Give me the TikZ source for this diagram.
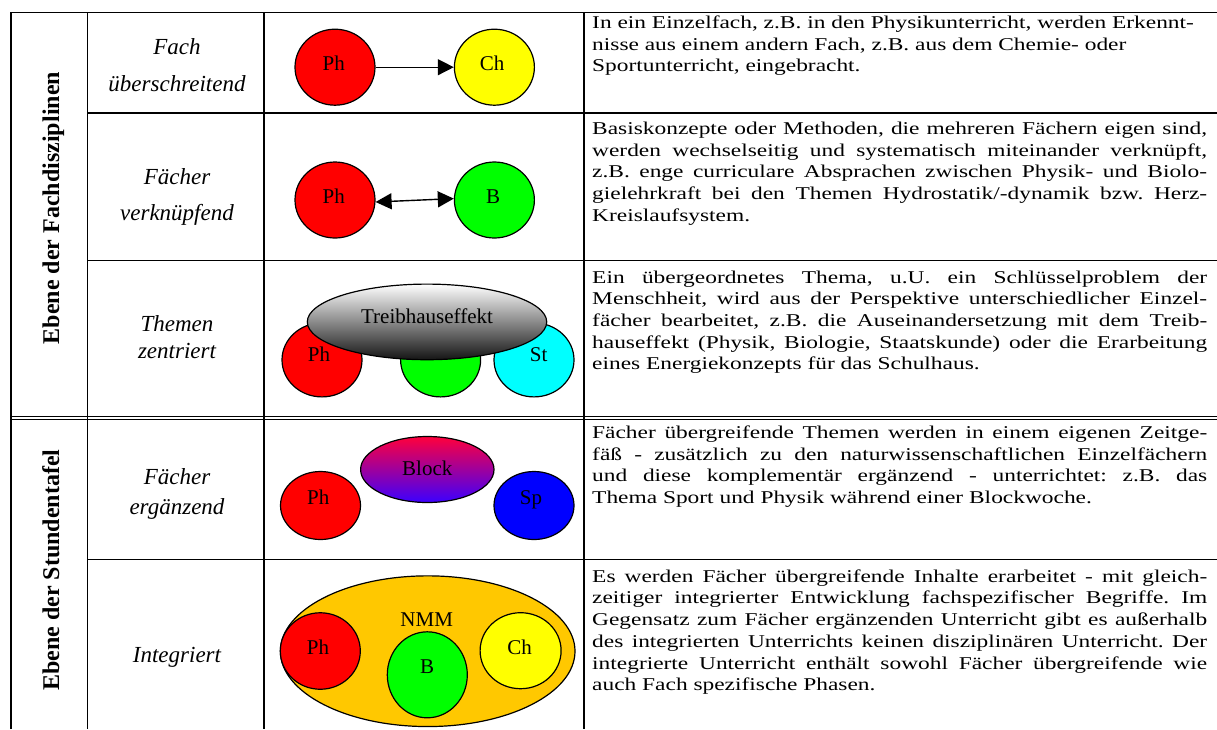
\documentclass[tikz,border=0pt]{standalone}
\usepackage{fontspec}
\setmainfont{Liberation Serif}
\newfontfamily\bodyfont[FakeStretch=1.3]{Liberation Serif}
\usetikzlibrary{shapes.geometric,arrows.meta}
\newcommand\JL[1]{\makebox[615pt][s]{#1}}
\definecolor{orangeNMM}{RGB}{255,200,0}
\definecolor{blocktop}{RGB}{255,0,60}
\definecolor{blockbot}{RGB}{60,0,255}
\definecolor{cyanfill}{RGB}{0,255,255}
\definecolor{redfill}{RGB}{255,0,0}
\definecolor{greenfill}{RGB}{0,255,0}
\definecolor{yellowfill}{RGB}{255,255,0}
\definecolor{bluefill}{RGB}{0,0,255}
\tikzset{
  grid/.style={line width=1.3pt},
  dbl/.style={line width=1pt},
  body/.style={font=\bodyfont\fontsize{18}{21.7}\selectfont, inner sep=0pt, anchor=base west},
  cat/.style={font=\itshape\fontsize{23}{27}\selectfont, inner sep=0pt, anchor=base},
  lev/.style={font=\bfseries\fontsize{24}{28}\selectfont, inner sep=0pt, rotate=90, anchor=base},
  subj/.style={ellipse, draw=black, line width=1.2pt, inner sep=0pt},
  lbl/.style={font=\fontsize{21}{24}\selectfont, inner sep=0pt, anchor=base},
  arr/.style={line width=1.4pt},
  ahead/.tip={Triangle[length=16pt,width=16pt]}
}
\begin{document}
\frenchspacing
\begin{tikzpicture}[x=1pt,y=-1pt]
\useasboundingbox (0,0) rectangle (1217,729);
% ---------- grid ----------
\draw[grid] (11,729) -- (11,12.4) -- (1217,12.4);
\draw[grid] (87.3,12.4) -- (87.3,729);
\draw[grid] (264,12.4) -- (264,729);
\draw[grid] (584,12.4) -- (584,729);
\draw[grid] (87.3,113.1) -- (1217,113.1);
\draw[grid] (87.3,260.7) -- (1217,260.7);
\draw[dbl] (11,416.9) -- (1217,416.9);
\draw[dbl] (11,419.8) -- (1217,419.8);
\draw[grid] (87.3,559.3) -- (1217,559.3);
% ---------- level labels ----------
\node[lev] (lev1) at (59,208) {Ebene der Fachdisziplinen};
\node[lev] (lev2) at (59,570) {Ebene der Stundentafel};
% ---------- category labels ----------
\node[cat] (c1a) at (177,54.5) {Fach};
\node[cat] (c1b) at (177,91.5) {überschreitend};
\node[cat] (c2a) at (177,184) {Fächer};
\node[cat] (c2b) at (177,220) {verknüpfend};
\node[cat] (c3a) at (177,331) {Themen};
\node[cat] (c3b) at (177,358) {zentriert};
\node[cat] (c4a) at (177,484) {Fächer};
\node[cat] (c4b) at (177,514) {ergänzend};
\node[cat] (c5a) at (177,662) {Integriert};
% ---------- row 1 diagram ----------
\node[subj, fill=redfill, minimum width=80pt, minimum height=76pt] (ph1) at (335,67.2) {};
\node[subj, fill=yellowfill, minimum width=80pt, minimum height=76pt] (ch1) at (494.4,67.2) {};
\node[lbl] (ph1l) at (333.8,70) {Ph};
\node[lbl] (ch1l) at (492.2,70) {Ch};
\draw[arr, -{ahead}] (ph1) -- (ch1);
% ---------- row 2 diagram ----------
\node[subj, fill=redfill, minimum width=80pt, minimum height=76pt] (ph2) at (335,200) {};
\node[subj, fill=greenfill, minimum width=80pt, minimum height=76pt] (b2) at (494.4,200) {};
\node[lbl] (ph2l) at (333.8,203.5) {Ph};
\node[lbl] (b2l) at (493.2,203.5) {B};
\draw[arr, {ahead}-{ahead}] ([yshift=-2pt]ph2.east) -- ([yshift=1.4pt]b2.west);
% ---------- row 3 diagram ----------
\node[subj, fill=redfill, minimum width=80pt, minimum height=74pt] (ph3) at (322,359.9) {};
\node[subj, fill=greenfill, minimum width=80pt, minimum height=74pt] (b3) at (440.6,359.9) {};
\node[subj, fill=cyanfill, minimum width=80pt, minimum height=74pt] (st3) at (534,359.9) {};
\node[lbl] (ph3l) at (319,361) {Ph};
\node[lbl] (st3l) at (538.6,361) {St};
\node[subj, top color=white, bottom color=black!92, minimum width=239.4pt, minimum height=75.6pt] (th3) at (427,321.9) {};
\node[lbl] (th3l) at (427,323) {Treibhauseffekt};
% ---------- row 4 diagram ----------
\node[subj, fill=redfill, minimum width=80pt, minimum height=68pt] (ph4) at (320.5,505.5) {};
\node[subj, fill=bluefill, minimum width=80pt, minimum height=68pt] (sp4) at (534,505.5) {};
\node[lbl] (ph4l) at (318.3,504.2) {Ph};
\node[lbl] (sp4l) at (531,504.2) {Sp};
\node[subj, top color=blocktop, bottom color=blockbot, minimum width=133.4pt, minimum height=66pt] (bl4) at (427.3,469.5) {};
\node[lbl] (bl4l) at (427.3,475.6) {Block};
% ---------- row 5 diagram ----------
\node[subj, fill=orangeNMM, minimum width=294.6pt, minimum height=150.7pt] (nmm5) at (427.7,651.2) {};
\node[lbl] (nmm5l) at (426.7,626.7) {NMM};
\node[subj, fill=redfill, minimum width=80pt, minimum height=76.5pt] (ph5) at (320.3,651) {};
\node[subj, fill=greenfill, minimum width=80pt, minimum height=86pt] (b5) at (427.3,674.8) {};
\node[subj, fill=yellowfill, minimum width=81pt, minimum height=76pt] (ch5) at (520.6,650.7) {};
\node[lbl] (ph5l) at (318,654.2) {Ph};
\node[lbl] (b5l) at (427,673.2) {B};
\node[lbl] (ch5l) at (519.7,654.2) {Ch};
% ---------- descriptions ----------
\node[body] (r1a) at (592,28.5) {In ein Einzelfach, z.B. in den Physikunterricht, werden Erkennt-};
\node[body] (r1b) at (592,50.2) {nisse aus einem andern Fach, z.B. aus dem Chemie- oder};
\node[body] (r1c) at (592,71.9) {Sportunterricht, eingebracht.};
%
\node[body] (r2a) at (592,134.5) {\JL{Basiskonzepte oder Methoden, die mehreren Fächern eigen sind,}};
\node[body] (r2b) at (592,156.2) {\JL{werden wechselseitig und systematisch miteinander verknüpft,}};
\node[body] (r2c) at (592,177.9) {\JL{z.B. enge curriculare Absprachen zwischen Physik- und Biolo-}};
\node[body] (r2d) at (592,199.6) {\JL{gielehrkraft bei den Themen Hydrostatik/-dynamik bzw. Herz-}};
\node[body] (r2e) at (592,221.3) {Kreislaufsystem.};
%
\node[body] (r3a) at (592,283.0) {\JL{Ein übergeordnetes Thema, u.U. ein Schlüsselproblem der}};
\node[body] (r3b) at (592,304.7) {\JL{Menschheit, wird aus der Perspektive unterschiedlicher Einzel-}};
\node[body] (r3c) at (592,326.4) {\JL{fächer bearbeitet, z.B. die Auseinandersetzung mit dem Treib-}};
\node[body] (r3d) at (592,348.1) {\JL{hauseffekt (Physik, Biologie, Staatskunde) oder die Erarbeitung}};
\node[body] (r3e) at (592,369.8) {eines Energiekonzepts für das Schulhaus.};
%
\node[body] (r4a) at (592,438.5) {\JL{Fächer übergreifende Themen werden in einem eigenen Zeitge-}};
\node[body] (r4b) at (592,460.2) {\JL{fäß - zusätzlich zu den naturwissenschaftlichen Einzelfächern}};
\node[body] (r4c) at (592,481.9) {\JL{und diese komplementär ergänzend - unterrichtet: z.B. das}};
\node[body] (r4d) at (592,503.6) {Thema Sport und Physik während einer Blockwoche.};
%
\node[body] (r5a) at (592,582.2) {\JL{Es werden Fächer übergreifende Inhalte erarbeitet - mit gleich-}};
\node[body] (r5b) at (592,603.9) {\JL{zeitiger integrierter Entwicklung fachspezifischer Begriffe. Im}};
\node[body] (r5c) at (592,625.6) {\JL{Gegensatz zum Fächer ergänzenden Unterricht gibt es außerhalb}};
\node[body] (r5d) at (592,647.3) {\JL{des integrierten Unterrichts keinen disziplinären Unterricht. Der}};
\node[body] (r5e) at (592,669.0) {\JL{integrierte Unterricht enthält sowohl Fächer übergreifende wie}};
\node[body] (r5f) at (592,690.7) {auch Fach spezifische Phasen.};
\end{tikzpicture}
\end{document}
